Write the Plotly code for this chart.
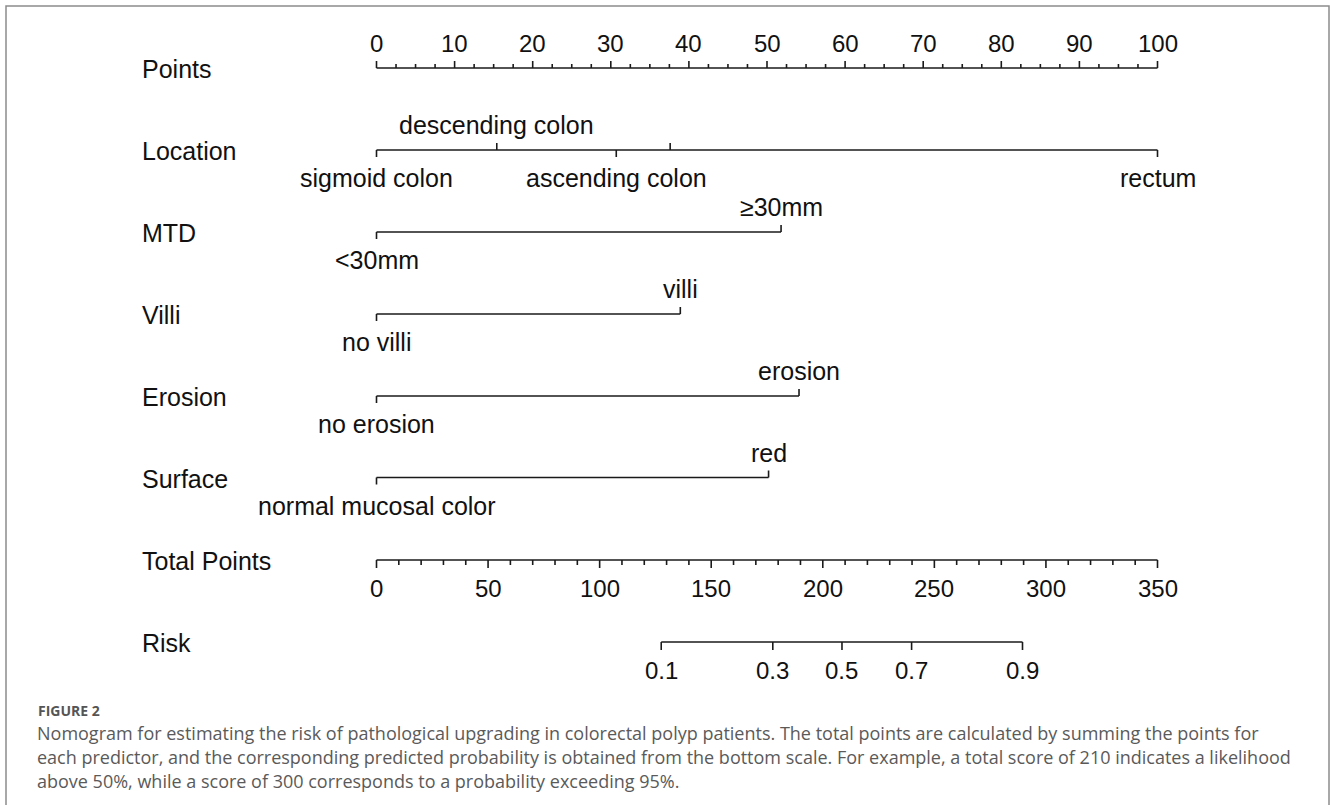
import numpy as np
import plotly.graph_objects as go

W, H = 1330, 805

# ---------------- data ----------------
points_ticks = [0, 10, 20, 30, 40, 50, 60, 70, 80, 90, 100]
points_tick_labels = ["0", "10", "20", "30", "40", "50", "60", "70", "80", "90", "100"]
points_minor_step = 2.5

total_ticks = [0, 50, 100, 150, 200, 250, 300, 350]
total_tick_labels = ["0", "50", "100", "150", "200", "250", "300", "350"]
total_minor_step = 10

location_levels = ["sigmoid colon", "descending colon", "ascending colon", "", "rectum"]
location_points = [0, 15.4, 30.7, 37.6, 100]
mtd_levels = ["<30mm", "≥30mm"]
mtd_points = [0, 51.8]
villi_levels = ["no villi", "villi"]
villi_points = [0, 38.9]
erosion_levels = ["no erosion", "erosion"]
erosion_points = [0, 54.1]
surface_levels = ["normal mucosal color", "red"]
surface_points = [0, 50.2]

risk_labels = ["0.1", "0.3", "0.5", "0.7", "0.9"]
risk_total_points = [127.6, 177.6, 208.6, 239.8, 289.5]

row_names = ["Points", "Location", "MTD", "Villi", "Erosion", "Surface", "Total Points", "Risk"]

caption_head = "FIGURE 2"
caption_lines = [
    "Nomogram for estimating the risk of pathological upgrading in colorectal polyp patients. The total points are calculated by summing the points for",
    "each predictor, and the corresponding predicted probability is obtained from the bottom scale. For example, a total score of 210 indicates a likelihood",
    "above 50%, while a score of 300 corresponds to a probability exceeding 95%.",
]

# ---------------- layout constants ----------------
X0, X1 = 376.5, 1157.5          # pixel extent of the scales
ROW_Y = [68, 150, 232, 314, 396, 477.5, 560, 642]
LABEL_X = 140
LINE_C = "#1a1a1a"
TEXT_C = "#111111"
LW = 1.6
FONT = "Liberation Sans, Arial, sans-serif"
FS = 25        # category / row labels
FS_TICK = 24   # numeric tick labels
MAJ, MIN, CT = 7, 4, 7          # tick lengths (px)
UP_OFF, DN_OFF = -25, 28

ppp1 = (X1 - X0) / 100.0
ppp2 = (X1 - X0) / 350.0

fig = go.Figure()
annotations = []


def add_segments(xs, ys, axis):
    fig.add_trace(go.Scatter(x=xs, y=ys, mode="lines", xaxis=axis, yaxis="y",
                             line=dict(color=LINE_C, width=LW), hoverinfo="skip",
                             showlegend=False))


def label(x, y, text, axis, size=FS):
    annotations.append(dict(x=x, y=y, xref=axis, yref="y", text=text, showarrow=False,
                            xanchor="center", yanchor="middle",
                            font=dict(family=FONT, size=size, color=TEXT_C)))


# Points axis (ticks up, labels above)
y = ROW_Y[0]
xs, ys = [0, 100, None], [y, y, None]
minor = np.arange(0, 100 + 1e-9, points_minor_step)
for v in minor:
    ln = MAJ if any(abs(v - t) < 1e-9 for t in points_ticks) else MIN
    xs += [v, v, None]
    ys += [y, y - ln, None]
add_segments(xs, ys, "x")
for v, t in zip(points_ticks, points_tick_labels):
    label(v, y + UP_OFF, t, "x", FS_TICK)

# Categorical predictors
cat_rows = [
    (location_levels, location_points),
    (mtd_levels, mtd_points),
    (villi_levels, villi_points),
    (erosion_levels, erosion_points),
    (surface_levels, surface_points),
]
for (levels, pts), y in zip(cat_rows, ROW_Y[1:6]):
    order = np.argsort(pts)
    xs, ys = [min(pts), max(pts), None], [y, y, None]
    for k, i in enumerate(order):
        v = pts[i]
        up = (k % 2 == 1)
        xs += [v, v, None]
        ys += [y, y - CT if up else y + CT, None]
        if levels[i]:
            label(v, y + (UP_OFF if up else DN_OFF), levels[i], "x")
    add_segments(xs, ys, "x")

# Total points axis (ticks down, labels below)
y = ROW_Y[6]
xs, ys = [0, 350, None], [y, y, None]
minor = np.arange(0, 350 + 1e-9, total_minor_step)
for v in minor:
    ln = MAJ + 1 if any(abs(v - t) < 1e-9 for t in total_ticks) else MIN + 1
    xs += [v, v, None]
    ys += [y, y + ln, None]
add_segments(xs, ys, "x2")
for v, t in zip(total_ticks, total_tick_labels):
    label(v, y + DN_OFF, t, "x2", FS_TICK)

# Risk axis
y = ROW_Y[7]
xs, ys = [min(risk_total_points), max(risk_total_points), None], [y, y, None]
for v in risk_total_points:
    xs += [v, v, None]
    ys += [y, y + MAJ + 1, None]
add_segments(xs, ys, "x2")
for v, t in zip(risk_total_points, risk_labels):
    label(v, y + DN_OFF, t, "x2", FS_TICK)

# Row names
for name, y in zip(row_names, ROW_Y):
    annotations.append(dict(x=LABEL_X / W, y=y + 1, xref="paper", yref="y", text=name,
                            showarrow=False, xanchor="left", yanchor="middle",
                            font=dict(family=FONT, size=FS, color=TEXT_C)))

# Caption
annotations.append(dict(x=36 / W, y=1 - 710 / H, xref="paper", yref="paper",
                        text="<b>" + caption_head + "</b>",
                        showarrow=False, xanchor="left", yanchor="middle",
                        font=dict(family="Open Sans, sans-serif", size=14, color="#555555")))
for i, line in enumerate(caption_lines):
    annotations.append(dict(x=35 / W, y=1 - (733 + 24 * i) / H, xref="paper", yref="paper",
                            text=line, showarrow=False, xanchor="left", yanchor="middle",
                            font=dict(family="Open Sans, sans-serif", size=18, color="#5a5a5a")))

fig.update_layout(
    width=W, height=H, autosize=False,
    margin=dict(l=0, r=0, t=0, b=0, pad=0),
    paper_bgcolor="white", plot_bgcolor="white",
    xaxis=dict(domain=[0, 1], range=[-X0 / ppp1, (W - X0) / ppp1], visible=False, fixedrange=True),
    xaxis2=dict(domain=[0, 1], range=[-X0 / ppp2, (W - X0) / ppp2], visible=False,
                overlaying="x", fixedrange=True),
    yaxis=dict(domain=[0, 1], range=[H, 0], visible=False, fixedrange=True),
    annotations=annotations,
    shapes=[dict(type="rect", xref="paper", yref="paper", x0=6 / W, x1=1329 / W,
                 y0=-0.05, y1=1 - 6 / H, line=dict(color="#8c8c8c", width=1.5))],
    showlegend=False,
)

fig.write_html("out.html")
